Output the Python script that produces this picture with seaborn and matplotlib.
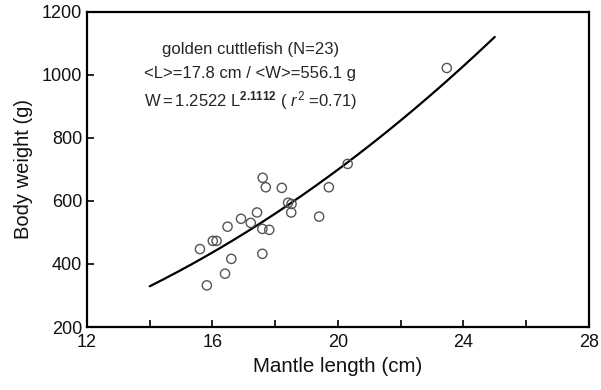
import matplotlib
matplotlib.use("Agg")
import matplotlib.pyplot as plt
import seaborn as sns
import numpy as np
import pandas as pd

# Data
mantle_length = [15.60, 15.82, 16.01, 16.13, 16.40, 16.48, 16.60, 16.91, 17.22, 17.42,
                 17.60, 17.70, 17.59, 17.81, 17.59, 18.21, 18.41, 18.52, 18.51, 19.40,
                 19.71, 20.31, 23.47]
body_weight = [447, 332, 473, 473, 369, 518, 416, 543, 530, 563,
               673, 643, 511, 508, 432, 641, 594, 590, 563, 550,
               643, 717, 1021]
fit_a = 1.2522
fit_b = 2.1112
fit_range = [14, 25]
x_ticks = [12, 16, 20, 24, 28]
x_minor = [14, 18, 22, 26]
y_ticks = [200, 400, 600, 800, 1000, 1200]

sns.set_theme(style="ticks")
plt.rcParams['font.family'] = ['Liberation Sans', 'DejaVu Sans']
plt.rcParams['mathtext.fontset'] = 'custom'
plt.rcParams['mathtext.rm'] = 'Liberation Sans'
plt.rcParams['mathtext.it'] = 'Liberation Sans:italic'
plt.rcParams['mathtext.bf'] = 'Liberation Sans:bold'

fig = plt.figure(figsize=(6.01, 3.90), dpi=100)
ax = fig.add_axes([0.1448, 0.1615, 0.835, 0.809])

df = pd.DataFrame({"L": mantle_length, "W": body_weight})
sns.scatterplot(data=df, x="L", y="W", ax=ax, s=44, facecolor="none",
                edgecolor="#555555", linewidth=1.0, zorder=3)

xf = np.linspace(fit_range[0], fit_range[1], 200)
fit_df = pd.DataFrame({"L": xf, "W": fit_a * xf ** fit_b})
sns.lineplot(data=fit_df, x="L", y="W", ax=ax, color="black", linewidth=1.6, zorder=2)

ax.set_xlim(12, 28)
ax.set_ylim(200, 1200)
ax.set_xticks(x_ticks)
ax.set_xticks(x_minor, minor=True)
ax.set_yticks(y_ticks)
ax.tick_params(axis='both', which='both', direction='in', labelsize=13, color='black',
               labelcolor='#111111', width=1.2)
ax.tick_params(axis='both', which='major', length=5)
ax.tick_params(axis='x', which='minor', length=5)
ax.tick_params(axis='x', pad=5)
for s in ax.spines.values():
    s.set_visible(True)
    s.set_linewidth(1.6)
    s.set_color('black')

ax.set_xlabel("Mantle length (cm)", fontsize=14.8, labelpad=4, color='#111111')
ax.set_ylabel("Body weight (g)", fontsize=14.5, labelpad=6, color='#111111')

cx = 0.325
ax.text(cx, 0.878, "golden cuttlefish (N=23)", transform=ax.transAxes,
        ha='center', va='center', fontsize=12)
ax.text(cx, 0.805, "<L>=17.8 cm / <W>=556.1 g", transform=ax.transAxes,
        ha='center', va='center', fontsize=12)
ax.text(cx, 0.718, r"W$=$1.2522 L$^{\mathbf{2.1112}}$ ( $\mathit{r}^2$ =0.71)",
        transform=ax.transAxes, ha='center', va='center', fontsize=12)

fig.savefig("out.png", dpi=100)
